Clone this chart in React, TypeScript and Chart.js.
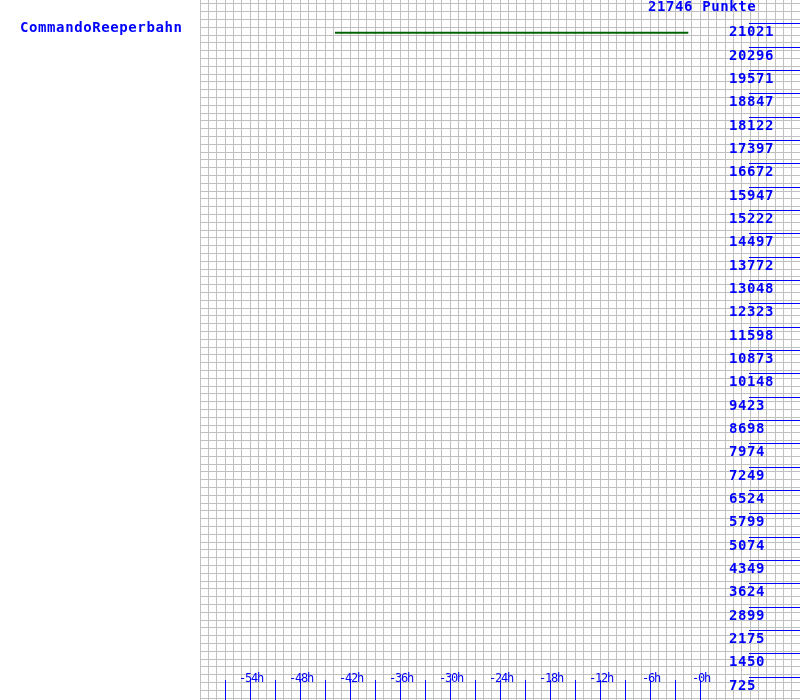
import React, { useEffect, useRef } from "react";
import { Chart, registerables } from "chart.js";

Chart.register(...registerables);

// ---- data ----
const SERIES_NAME = "CommandoReeperbahn";
const TOTAL_POINTS = 21746;
const POINTS_UNIT = "Punkte";
const HOURS = [-43.8, -1.4];
const SCORES = [20725, 20725];

const Y_TICKS = [
  725, 1450, 2175, 2899, 3624, 4349, 5074, 5799, 6524, 7249, 7974, 8698, 9423,
  10148, 10873, 11598, 12323, 13048, 13772, 14497, 15222, 15947, 16672, 17397,
  18122, 18847, 19571, 20296, 21021,
];
const X_TICK_HOURS = [
  -57, -54, -51, -48, -45, -42, -39, -36, -33, -30, -27, -24, -21, -18, -15,
  -12, -9, -6, -3, 0,
];
const X_LABEL_HOURS = [-54, -48, -42, -36, -30, -24, -18, -12, -6, 0];
const X_LABELS = ["-54h", "-48h", "-42h", "-36h", "-30h", "-24h", "-18h", "-12h", "-6h", "-0h"];

const X_MIN = -60;
const X_MAX = 12;
const GRID_Y_TOP = 21622;
const GRID_Y_STEP = 242.3;

const BLUE = "#0000ff";

const labelsPlugin = {
  id: "labelsPlugin",
  afterDraw(chart: any) {
    const ctx = chart.ctx as CanvasRenderingContext2D;
    const area = chart.chartArea;
    const xs = chart.scales.x;
    const ys = chart.scales.y;
    ctx.save();
    // right-side value ticks
    ctx.strokeStyle = BLUE;
    ctx.lineWidth = 1;
    ctx.fillStyle = BLUE;
    ctx.font = "bold 14px 'DejaVu Sans Mono'";
    (ctx as any).letterSpacing = "0.6px";
    ctx.textAlign = "left";
    ctx.textBaseline = "alphabetic";
    for (const v of Y_TICKS) {
      const py = Math.round(ys.getPixelForValue(v)) + 0.5;
      ctx.beginPath();
      ctx.moveTo(area.right - 51, py);
      ctx.lineTo(area.right, py);
      ctx.stroke();
      ctx.fillText(String(v), area.right - 71, py + 12);
    }
    // title
    ctx.fillText(`${TOTAL_POINTS} ${POINTS_UNIT}`, area.right - 152, 11);
    // series name on left
    ctx.fillText(SERIES_NAME, 20, 32);

    // bottom time ticks
    for (const h of X_TICK_HOURS) {
      const px = Math.round(xs.getPixelForValue(h)) + 0.5;
      ctx.beginPath();
      ctx.moveTo(px, area.bottom - 20);
      ctx.lineTo(px, area.bottom);
      ctx.stroke();
    }
    ctx.font = "12px 'DejaVu Sans Mono'";
    (ctx as any).letterSpacing = "-1.2px";
    ctx.textAlign = "center";
    X_LABEL_HOURS.forEach((h, i) => {
      const px = xs.getPixelForValue(h);
      ctx.fillText(X_LABELS[i], px + 1, area.bottom - 18);
    });
    ctx.restore();
  },
};

export default function App() {
  const ref = useRef<HTMLCanvasElement | null>(null);
  useEffect(() => {
    if (!ref.current) return;
    const gridValuesY: number[] = [];
    for (let v = GRID_Y_TOP; v > 0; v -= GRID_Y_STEP) gridValuesY.push(v);
    const gridValuesX: number[] = [];
    for (let h = X_MIN; h <= X_MAX; h += 1) gridValuesX.push(h);

    const chart = new Chart(ref.current, {
      type: "line",
      data: {
        datasets: [
          {
            label: SERIES_NAME,
            data: HOURS.map((h, i) => ({ x: h, y: SCORES[i] })),
            borderColor: "#006400",
            borderWidth: 2,
            pointRadius: 0,
            tension: 0,
            fill: false,
          },
        ],
      },
      options: {
        animation: false,
        responsive: false,
        devicePixelRatio: 1,
        layout: { padding: { left: 200, right: 0, top: 0, bottom: 0 } },
        plugins: {
          legend: { display: false },
          title: { display: false },
          tooltip: { enabled: false },
        },
        scales: {
          x: {
            type: "linear",
            min: X_MIN,
            max: X_MAX,
            afterBuildTicks: (scale: any) => {
              scale.ticks = gridValuesX.map((v) => ({ value: v }));
            },
            ticks: { display: false },
            grid: { color: "#c0c0c0", lineWidth: 1, drawTicks: false },
            border: { display: false },
          },
          y: {
            type: "linear",
            min: 0,
            max: TOTAL_POINTS,
            afterBuildTicks: (scale: any) => {
              scale.ticks = gridValuesY.map((v) => ({ value: v }));
            },
            ticks: { display: false },
            grid: { color: "#c0c0c0", lineWidth: 1, drawTicks: false },
            border: { display: false },
          },
        },
      },
      plugins: [labelsPlugin],
    });
    return () => chart.destroy();
  }, []);

  return (
    <div style={{ position: "absolute", left: 0, top: 0, width: 800, height: 700, background: "#fff" }}>
      <canvas ref={ref} width={800} height={700} style={{ display: "block", width: 800, height: 700 }} />
    </div>
  );
}
